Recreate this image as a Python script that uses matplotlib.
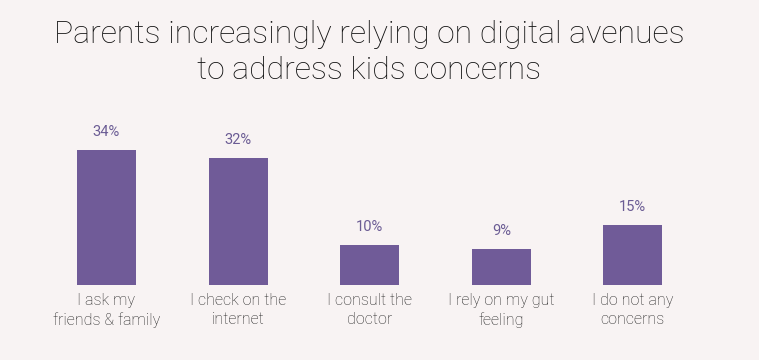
import matplotlib.pyplot as plt
import numpy as np

categories = ["I ask my\nfriends & family", "I check on the\ninternet", "I consult the\ndoctor",
              "I rely on my gut\nfeeling", "I do not any\nconcerns"]
values = [34, 32, 10, 9, 15]

bg = "#f8f3f3"
plt.rcParams['font.family'] = ['Roboto', 'DejaVu Sans']

fig = plt.figure(figsize=(7.59, 3.6), dpi=100, facecolor=bg)
ax = fig.add_axes([0.0536, 0.2083, 0.8669, 0.4853])
ax.set_facecolor(bg)
x = np.arange(len(values))
ax.bar(x, values, width=0.448, color="#705b98")
for xi, v in zip(x, values):
    ax.annotate(f"{v}%", (xi, v), xytext=(0, 8), textcoords="offset points",
                ha="center", va="bottom", fontsize=10.5, color="#6b5c94")
ax.set_xlim(-0.5, 4.5)
ax.set_ylim(0, 44)
ax.set_xticks(x)
ax.set_xticklabels(categories, fontsize=11.5, color="#222222", fontweight="light", linespacing=1.3)
ax.tick_params(axis="x", length=0, pad=6)
ax.set_yticks([])
for s in ax.spines.values():
    s.set_visible(False)

fig.text(0.486, 0.855, "Parents increasingly relying on digital avenues\nto address kids concerns",
         ha="center", va="center", fontsize=23, fontweight="light", color="#111111", linespacing=1.3)

fig.savefig("out.png", dpi=100, facecolor=bg)
